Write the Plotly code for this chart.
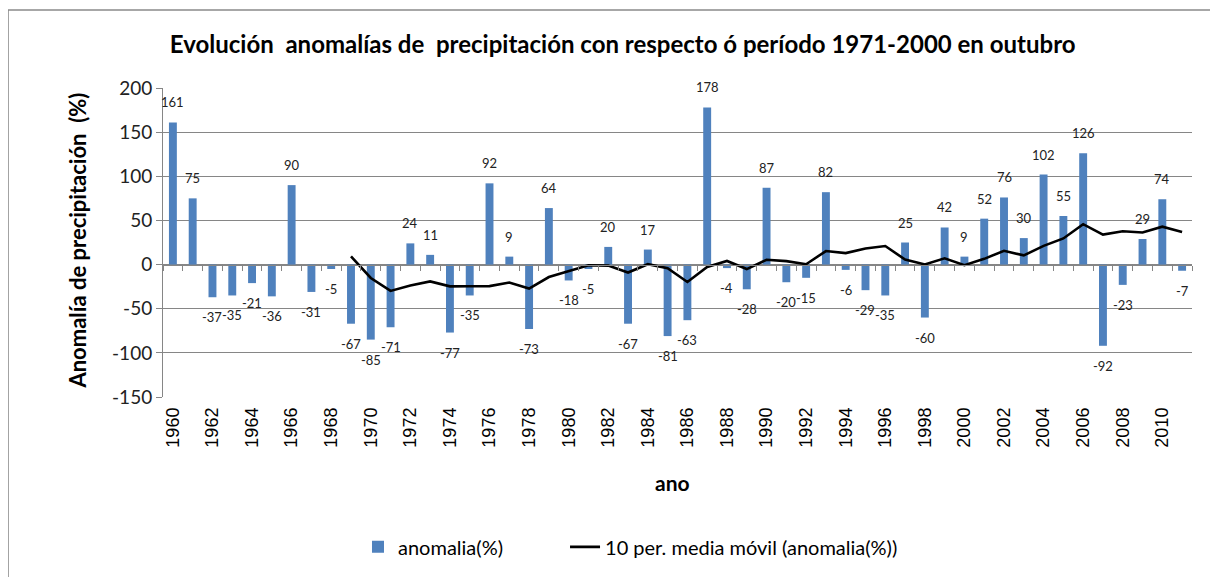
import plotly.graph_objects as go

years = list(range(1960, 2012))
anomalia = [161, 75, -37, -35, -21, -36, 90, -31, -5, -67,
            -85, -71, 24, 11, -77, -35, 92, 9, -73, 64,
            -18, -5, 20, -67, 17, -81, -63, 178, -4, -28,
            87, -20, -15, 82, -6, -29, -35, 25, -60, 42,
            9, 52, 76, 30, 102, 55, 126, -92, -23, 29,
            74, -7]
ma_years = list(range(1969, 2012))
media_movil = [9.4, -15.2, -29.8, -23.7, -19.1, -24.7, -24.6, -24.4, -20.4, -27.2,
               -14.1, -7.4, -0.8, -1.2, -9.0, 0.4, -4.2, -19.7, -2.8, 4.1,
               -5.1, 5.4, 3.9, 0.4, 15.3, 13.0, 18.2, 21.0, 5.7, 0.1,
               7.1, -0.7, 6.5, 15.6, 10.4, 21.2, 29.6, 45.7, 34.0, 37.7,
               36.4, 42.9, 37.0]
tick_years = list(range(1960, 2011, 2))
y_ticks = [-150, -100, -50, 0, 50, 100, 150, 200]

title = "Evolución  anomalías de  precipitación con respecto ó período 1971-2000 en outubro"
y_title = "Anomalía de precipitación  (%)"
x_title = "ano"
bar_name = "anomalia(%)"
line_name = "10 per. media móvil (anomalia(%))"

BLUE = "#4F81BD"
GRID = "#868686"
CAL = "Lato, 'Open Sans', sans-serif"
ARIAL = "'Liberation Sans', Arial, sans-serif"

fig = go.Figure()
fig.add_trace(go.Bar(x=years, y=anomalia, name=bar_name, marker_color=BLUE,
                     marker_line_width=0, xaxis="x", yaxis="y", legend="legend"))
fig.add_trace(go.Scatter(x=ma_years, y=media_movil, name=line_name, mode="lines",
                         line=dict(color="black", width=2.6), xaxis="x2", yaxis="y",
                         legend="legend2"))

for yr, v in zip(years, anomalia):
    fig.add_annotation(x=yr, y=v, text=str(v), showarrow=False, xref="x", yref="y",
                       yshift=20 if v >= 0 else -20, yanchor="middle",
                       font=dict(family=CAL, size=13, color="#222"))

fig.add_annotation(x=-0.083, y=0.505, xref="paper", yref="paper", text="<b>" + y_title + "</b>",
                   textangle=-90, showarrow=False, xanchor="center", yanchor="middle",
                   font=dict(family=CAL, size=22, color="black"))
fig.add_annotation(x=0.4947, y=-0.278, xref="paper", yref="paper", text="<b>" + x_title + "</b>",
                   showarrow=False, xanchor="center", yanchor="middle",
                   font=dict(family=CAL, size=21, color="black"))

fig.add_shape(type="rect", xref="paper", yref="paper", x0=-0.1506, x1=1.0243, y0=-0.75, y1=1.2524,
              line=dict(color="#8a8a8a", width=1.5), layer="below")

# The page body has an 8px default margin, so the figure is sized to fill the rest of the window.
fig.update_layout(
    width=1210, height=569,
    paper_bgcolor="white", plot_bgcolor="white",
    margin=dict(l=155, r=26, t=80, b=180, autoexpand=False),
    bargap=0.6,
    title=dict(text="<b>" + title + "</b>", x=0.508, xanchor="center", y=0.935, yanchor="middle",
               font=dict(family=CAL, size=24, color="black")),
    xaxis=dict(range=[1959.5, 2011.5], tickmode="array", tickvals=tick_years,
               ticktext=[str(t) for t in tick_years], tickangle=-90, ticks="",
               showgrid=False, zeroline=False, showline=False, automargin=False,
               ticklabelstandoff=6,
               tickfont=dict(family=ARIAL, size=18, color="black")),
    xaxis2=dict(range=[1959.5, 2011.5], overlaying="x", anchor="free", position=150 / 350,
                tickmode="linear", tick0=1959.5, dtick=1, ticks="outside", ticklen=5,
                tickcolor=GRID, showticklabels=False, showline=True, linecolor=GRID,
                showgrid=False, zeroline=False, side="bottom", automargin=False),
    yaxis=dict(range=[-150, 200], tickmode="array", tickvals=y_ticks,
               ticktext=[str(t) for t in y_ticks],
               showgrid=True, gridcolor=GRID, gridwidth=1, zeroline=False,
               showline=True, linecolor=GRID, ticks="outside", ticklen=6, tickcolor=GRID,
               automargin=False,
               tickfont=dict(family=CAL, size=19, color="#222")),
    showlegend=True,
    legend=dict(orientation="h", x=0.1895, xanchor="left", y=-0.485, yanchor="middle",
                font=dict(family=CAL, size=20, color="black"), bgcolor="rgba(0,0,0,0)"),
    legend2=dict(orientation="h", x=0.3907, xanchor="left", y=-0.485, yanchor="middle",
                 font=dict(family=CAL, size=20, color="black"), bgcolor="rgba(0,0,0,0)"),
)

fig.write_html("out.html")
